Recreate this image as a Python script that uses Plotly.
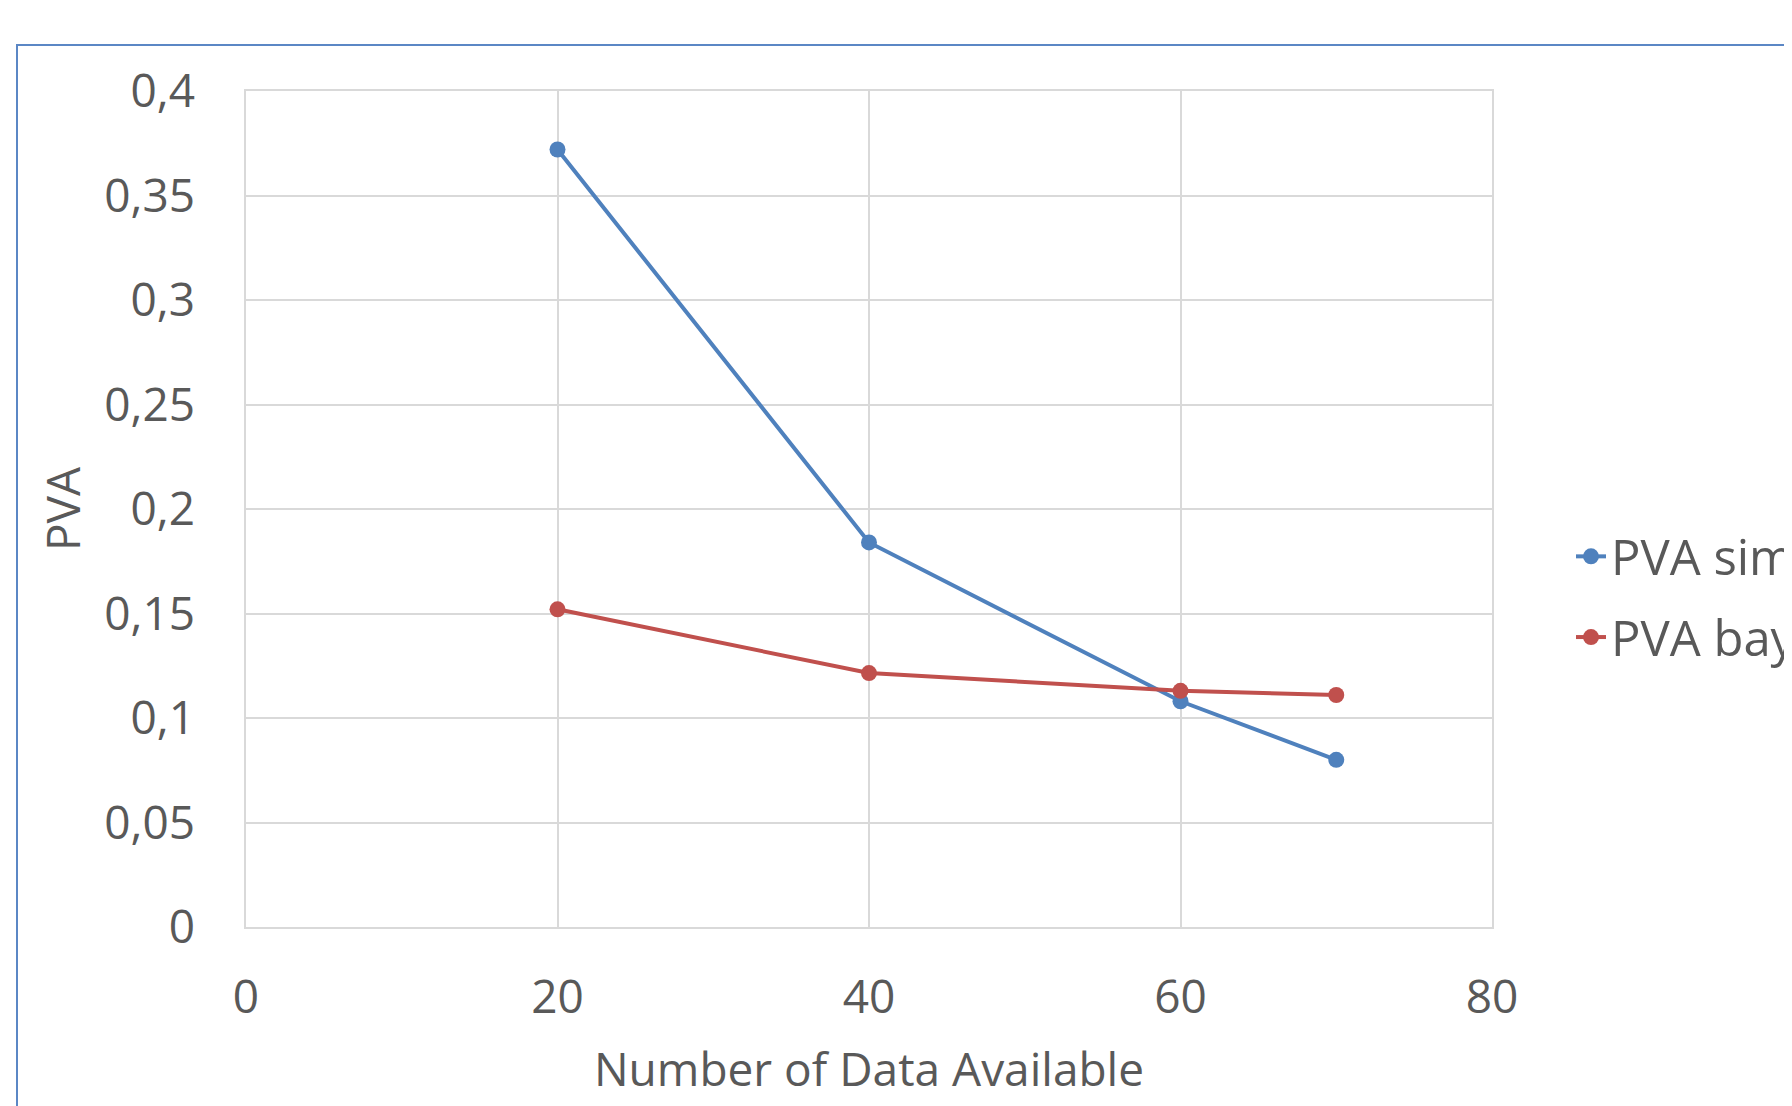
import plotly.graph_objects as go

x_vals = [20, 40, 60, 70]
pva_sim = [0.372, 0.184, 0.108, 0.080]
pva_bay = [0.152, 0.1215, 0.113, 0.111]
series_names = ["PVA simulation", "PVA bayesian"]
colors = ["#4F81BD", "#C0504D"]

FONT = "Open Sans"
TXT = "#595959"
GRID = "#D9D9D9"

W, H = 1792, 1106
PW, PH = 1246, 836
ML, MT = 238, 83
MR = W - ML - PW
MB = H - MT - PH

fig = go.Figure()
for name, ys, c in zip(series_names, [pva_sim, pva_bay], colors):
    fig.add_trace(go.Scatter(
        x=x_vals, y=ys, name=name, mode="lines+markers",
        line=dict(color=c, width=4),
        marker=dict(color=c, size=16),
        legendgroup=name,
    ))

def px2paper_x(px):
    return (px - ML) / PW

def px2paper_y(py):
    return (MT + PH - py) / PH

fig.add_shape(type="rect", xref="paper", yref="paper",
              x0=px2paper_x(9), y0=px2paper_y(37), x1=px2paper_x(W + 100), y1=px2paper_y(H + 100),
              line=dict(color="#5B87C5", width=2), fillcolor="rgba(0,0,0,0)", layer="below")

fig.update_layout(
    width=W, height=H,
    margin=dict(l=ML, r=MR, t=MT, b=MB, autoexpand=False),
    paper_bgcolor="white", plot_bgcolor="white",
    separators=", ",
    font=dict(family=FONT, color=TXT, size=46),
    showlegend=True,
    legend=dict(x=px2paper_x(1563), xanchor="left", y=px2paper_y(589), yanchor="middle",
                font=dict(family=FONT, size=49, color=TXT),
                bgcolor="rgba(0,0,0,0)", traceorder="grouped", tracegroupgap=14,
                itemwidth=30),
    xaxis=dict(range=[0, 80], dtick=20, tick0=0, showgrid=True, gridcolor=GRID, gridwidth=1.5,
               showline=True, mirror=True, linecolor=GRID, linewidth=1.5, zeroline=False,
               ticks="", ticklabelstandoff=29, tickfont=dict(size=46, color=TXT),
               title=dict(text="Number of Data Available", standoff=29,
                          font=dict(size=46, color=TXT))),
    yaxis=dict(range=[0, 0.4], dtick=0.05, tick0=0, showgrid=True, gridcolor=GRID, gridwidth=1.5,
               showline=True, mirror=True, linecolor=GRID, linewidth=1.5, zeroline=False,
               ticks="", ticklabelstandoff=40, tickfont=dict(size=46, color=TXT),
               title=dict(text="PVA", standoff=9, font=dict(size=46, color=TXT))),
)

fig.write_html("out.html")
